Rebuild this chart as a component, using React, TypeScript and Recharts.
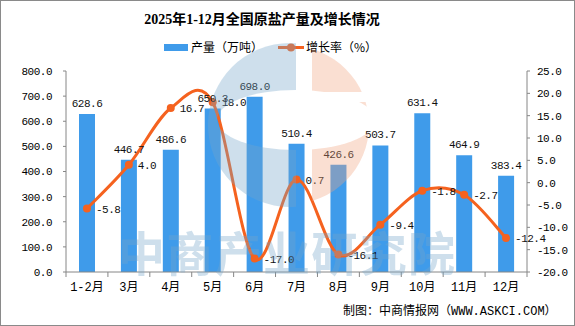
import React from 'react';
import { ComposedChart, Bar, Line, XAxis, YAxis, LabelList } from 'recharts';

const categories = ['1-2月', '3月', '4月', '5月', '6月', '7月', '8月', '9月', '10月', '11月', '12月'];
const production = [628.6, 446.7, 486.6, 650.3, 698.0, 510.4, 426.6, 503.7, 631.4, 464.9, 383.4];
const growth = [-5.8, 4.0, 16.7, 18.0, -17.0, 0.7, -16.1, -9.4, -1.8, -2.7, -12.4];
const leftTicks = [0, 100, 200, 300, 400, 500, 600, 700, 800];
const rightTicks = [-20, -15, -10, -5, 0, 5, 10, 15, 20, 25];

const data = categories.map((c, i) => ({ name: c, prod: production[i], growth: growth[i] }));

const BAR = '#3f9bea';
const ORANGE = '#f5621f';
const AXIS = '#868686';
const MONO = "'Liberation Mono', 'Noto Sans CJK SC', monospace";

// Catmull-Rom like smoothing (Excel style smoothed line)
const smoothCurve: any = (context: any) => {
  let pts: number[][] = [];
  return {
    areaStart() {},
    areaEnd() {},
    lineStart() { pts = []; },
    point(x: number, y: number) { pts.push([+x, +y]); },
    lineEnd() {
      if (!pts.length) return;
      context.moveTo(pts[0][0], pts[0][1]);
      for (let i = 0; i < pts.length - 1; i++) {
        const p0 = pts[i - 1] || pts[i];
        const p1 = pts[i];
        const p2 = pts[i + 1];
        const p3 = pts[i + 2] || p2;
        const c1x = p1[0] + (p2[0] - p0[0]) / 6;
        const c1y = p1[1] + (p2[1] - p0[1]) / 6;
        const c2x = p2[0] - (p3[0] - p1[0]) / 6;
        const c2y = p2[1] - (p3[1] - p1[1]) / 6;
        context.bezierCurveTo(c1x, c1y, c2x, c2y, p2[0], p2[1]);
      }
    },
  };
};

const XTick = (props: any) => {
  const { x, y, payload, index } = props;
  const half = payload && payload.offset ? payload.offset : 21;
  const last = index === categories.length - 1;
  return (
    <g>
      <line x1={x - half} x2={x - half} y1={y} y2={y + 5} stroke={AXIS} />
      {last && <line x1={x + half} x2={x + half} y1={y} y2={y + 5} stroke={AXIS} />}
      <text x={x} y={y + 19} textAnchor="middle" fontFamily={MONO} fontSize={12} fill="#000">
        {payload.value}
      </text>
    </g>
  );
};

const GrowthLabel = (props: any) => {
  const { x, y, value } = props;
  return (
    <text x={x + 9} y={y} dy={4} fontFamily={MONO} fontSize={11} letterSpacing={-0.5} fill="#111">
      {Number(value).toFixed(1)}
    </text>
  );
};

export default function App() {
  return (
    <div style={{ position: 'absolute', left: 0, top: 0, width: 575, height: 326, background: '#fff', overflow: 'hidden' }}>
      <div style={{ position: 'absolute', left: 0, top: 10, width: 524, textAlign: 'center', fontFamily: "'Liberation Serif', 'Noto Sans CJK SC', serif", fontWeight: 'bold', fontSize: 14, color: '#000', lineHeight: '20px' }}>
        2025年1-12月全国原盐产量及增长情况
      </div>
      {/* legend */}
      <div style={{ position: 'absolute', left: 164, top: 44, width: 24, height: 7, background: BAR }} />
      <div style={{ position: 'absolute', left: 191, top: 39, fontFamily: "'Noto Sans CJK SC', sans-serif", fontSize: 12, lineHeight: '16px', color: '#000' }}>产量（万吨）</div>
      <svg style={{ position: 'absolute', left: 276, top: 40 }} width={30} height={16}>
        <line x1={2} x2={28} y1={7.5} y2={7.5} stroke={ORANGE} strokeWidth={3} />
        <circle cx={15} cy={7.5} r={4} fill={ORANGE} />
      </svg>
      <div style={{ position: 'absolute', left: 306, top: 39, fontFamily: "'Noto Sans CJK SC', sans-serif", fontSize: 12, lineHeight: '16px', color: '#000' }}>增长率（%）</div>

      <div style={{ position: 'absolute', left: 0, top: 0 }}>
        <ComposedChart width={575} height={326} data={data} margin={{ top: 71, right: 3, bottom: 24, left: 6 }}>
          <XAxis
            dataKey="name"
            height={30}
            stroke={AXIS}
            tickLine={false}
            tickSize={0}
            tickMargin={0}
            interval={0}
            tick={<XTick />}
          />
          <YAxis
            yAxisId="left"
            width={60}
            domain={[0, 800]}
            ticks={leftTicks}
            stroke={AXIS}
            tickSize={3}
            tickMargin={11}
            interval={0}
            tickFormatter={(v: number) => v.toFixed(1)}
            tick={{ fill: '#000', fontFamily: MONO, fontSize: 11, letterSpacing: -0.5 }}
          />
          <YAxis
            yAxisId="right"
            orientation="right"
            width={45}
            domain={[-20, 25]}
            ticks={rightTicks}
            stroke={AXIS}
            tickSize={3}
            tickMargin={7}
            interval={0}
            tickFormatter={(v: number) => v.toFixed(1)}
            tick={{ fill: '#000', fontFamily: MONO, fontSize: 11, letterSpacing: -0.5, textAnchor: 'start' }}
          />
          <Bar yAxisId="left" dataKey="prod" fill={BAR} barSize={16} isAnimationActive={false}>
            <LabelList
              dataKey="prod"
              position="top"
              offset={7}
              formatter={(v: any) => Number(v).toFixed(1)}
              style={{ fontFamily: MONO, fontSize: 11, letterSpacing: -0.5, fill: '#111' }}
            />
          </Bar>
          <Line
            yAxisId="right"
            dataKey="growth"
            type={smoothCurve}
            stroke={ORANGE}
            strokeWidth={3}
            dot={{ r: 4, fill: ORANGE, stroke: ORANGE, strokeWidth: 0 }}
            isAnimationActive={false}
          >
            <LabelList dataKey="growth" content={<GrowthLabel />} />
          </Line>
        </ComposedChart>
      </div>

      {/* watermark */}
      <svg style={{ position: 'absolute', left: 0, top: 0, pointerEvents: 'none' }} width={575} height={326}>
        <defs>
          <clipPath id="wl"><rect x={0} y={0} width={296} height={326} /></clipPath>
          <clipPath id="wr"><rect x={312} y={0} width={263} height={326} /></clipPath>
          <mask id="wm">
            <rect x={0} y={0} width={575} height={326} fill="#fff" />
            <ellipse cx={296} cy={120} rx={79} ry={30} fill="#000" />
            <rect x={290} y={92} width={100} height={10} fill="#000" />
          </mask>
        </defs>
        <g opacity={0.35} mask="url(#wm)">
          <circle cx={290} cy={125} r={82} fill="#76a6c9" clipPath="url(#wl)" />
          <circle cx={290} cy={125} r={79} fill="#f1a481" clipPath="url(#wr)" />
        </g>
        <text x={118} y={271} fontFamily="'Noto Sans CJK SC', sans-serif" fontWeight="bold" fontSize={47} fill="#76a6c9" opacity={0.35} textLength={337}>
          中商产业研究院
        </text>
      </svg>

      <div style={{ position: 'absolute', left: 343, top: 304, fontFamily: MONO, fontSize: 12, lineHeight: '16px', color: '#000', whiteSpace: 'nowrap' }}>
        制图：中商情报网（WWW.ASKCI.COM）
      </div>
      <div style={{ position: 'absolute', left: 0, top: 0, width: 575, height: 326, boxSizing: 'border-box', border: '1px solid #8a8a8a', pointerEvents: 'none' }} />
    </div>
  );
}
